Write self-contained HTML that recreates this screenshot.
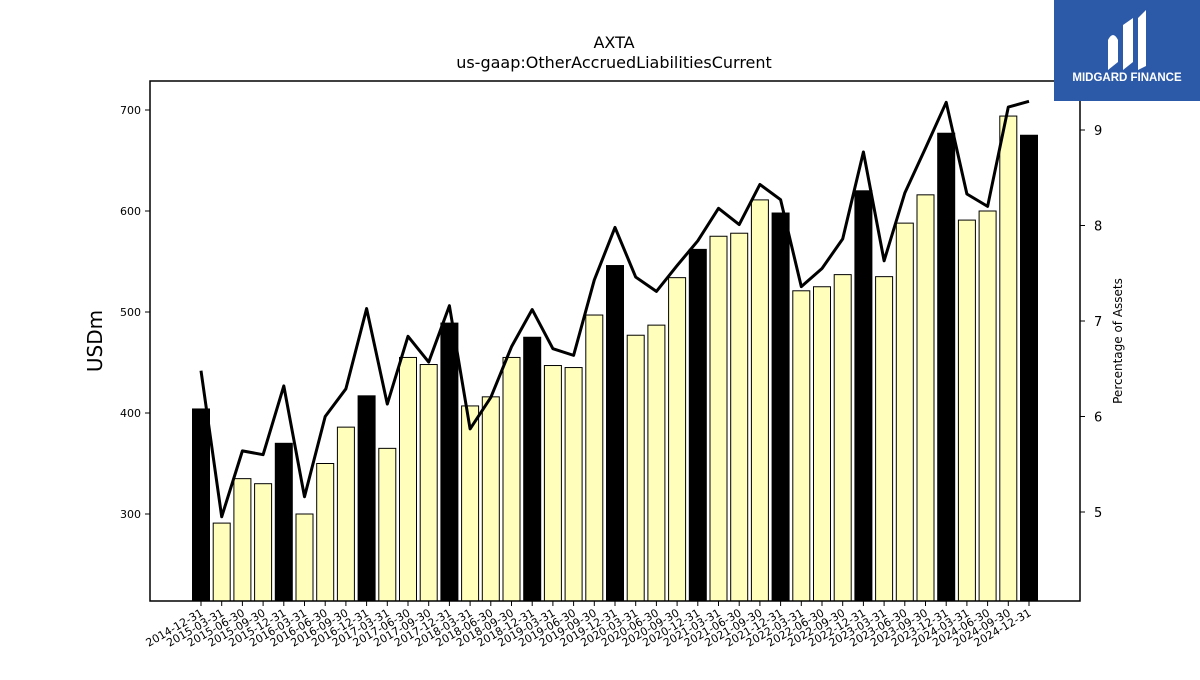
<!DOCTYPE html>
<html><head><meta charset="utf-8"><style>
body{margin:0;background:#fff;width:1200px;height:675px;overflow:hidden;font-family:"Liberation Sans","DejaVu Sans",sans-serif}
</style></head><body>
<svg id="chart" width="1200" height="675" xmlns="http://www.w3.org/2000/svg" font-family="DejaVu Sans, Liberation Sans, sans-serif">
<text x="614" y="48" text-anchor="middle" font-size="16">AXTA</text>
<text x="614" y="68" text-anchor="middle" font-size="16">us-gaap:OtherAccruedLiabilitiesCurrent</text>
<g id="plot"></g>
<rect x="150" y="81" width="930" height="520" fill="none" stroke="#000" stroke-width="1.5"/>
<text transform="translate(102,341) rotate(-90)" text-anchor="middle" font-size="20">USDm</text>
<text transform="translate(1122,341) rotate(-90)" text-anchor="middle" font-size="12">Percentage of Assets</text>
<g>
<rect x="1054" y="0" width="146" height="101" fill="#2c5aa8"/>
<path d="M1108 70 L1108 40 Q1113 30 1118 40 L1118 62 Z M1123 70 L1123 25 L1133 18 L1133 62 Z M1138 70 L1138 18 L1146 10 L1146 66 Z" fill="#fff"/>
<text x="1127" y="81" text-anchor="middle" font-size="11.5" font-weight="bold" fill="#fff" font-family="Liberation Sans, sans-serif">MIDGARD FINANCE</text>
</g>
</svg>
<script>
const categories=["2014-12-31","2015-03-31","2015-06-30","2015-09-30","2015-12-31","2016-03-31","2016-06-30","2016-09-30","2016-12-31","2017-03-31","2017-06-30","2017-09-30","2017-12-31","2018-03-31","2018-06-30","2018-09-30","2018-12-31","2019-03-31","2019-06-30","2019-09-30","2019-12-31","2020-03-31","2020-06-30","2020-09-30","2020-12-31","2021-03-31","2021-06-30","2021-09-30","2021-12-31","2022-03-31","2022-06-30","2022-09-30","2022-12-31","2023-03-31","2023-06-30","2023-09-30","2023-12-31","2024-03-31","2024-06-30","2024-09-30","2024-12-31"];
const values=[404,291,335,330,370,300,350,386,417,365,455,448,489,407,416,455,475,447,445,497,546,477,487,534,562,575,578,611,598,521,525,537,620,535,588,616,677,591,600,694,675];
const pct=[6.48,4.95,5.64,5.60,6.32,5.16,6.0,6.29,7.13,6.13,6.84,6.57,7.16,5.87,6.20,6.73,7.12,6.71,6.64,7.43,7.98,7.46,7.31,7.58,7.84,8.18,8.01,8.43,8.27,7.36,7.55,7.86,8.77,7.63,8.34,8.81,9.29,8.33,8.20,9.24,9.30];
const yTicks=[300,400,500,600,700];
const y2Ticks=[5,6,7,8,9];
const NS="http://www.w3.org/2000/svg";
const g=document.getElementById('plot');
const x=i=>201+i*(828/(categories.length-1));
const y=v=>514-(v-300)*1.01;
const y2=v=>512-(v-5)*95.5;
const bottom=601;
function mk(t,a){const e=document.createElementNS(NS,t);for(const k in a)e.setAttribute(k,a[k]);g.appendChild(e);return e;}
values.forEach((v,i)=>{
  const annual=categories[i].endsWith("12-31");
  const r=mk('rect',{x:x(i)-8.5,y:y(v),width:17,height:bottom-y(v),fill:annual?'#000':'#ffffbb',stroke:'#000','stroke-width':1});
  
  
  const tk=mk('line',{x1:x(i),x2:x(i),y1:bottom,y2:bottom+5,stroke:'#000'});
  
  
  const t=mk('text',{transform:`translate(${x(i)+3},${bottom+14}) rotate(-30)`,'text-anchor':'end','font-size':11});
  
  
  t.textContent=categories[i];
});
const line=mk('polyline',{points:pct.map((p,i)=>x(i)+','+y2(p)).join(' '),fill:'none',stroke:'#000','stroke-width':3,'stroke-linejoin':'round'});


yTicks.forEach(v=>{
  const l=mk('line',{x1:145,x2:150,y1:y(v),y2:y(v),stroke:'#000'});
  
  
  const t=mk('text',{x:141,y:y(v)+4,'text-anchor':'end','font-size':11});
  
  
  t.textContent=v;
});
y2Ticks.forEach(v=>{
  const l=mk('line',{x1:1080,x2:1085,y1:y2(v),y2:y2(v),stroke:'#000'});
  
  
  const t=mk('text',{x:1094,y:y2(v)+5,'font-size':13});
  
  
  t.textContent=v;
});
</script>
</body></html>
